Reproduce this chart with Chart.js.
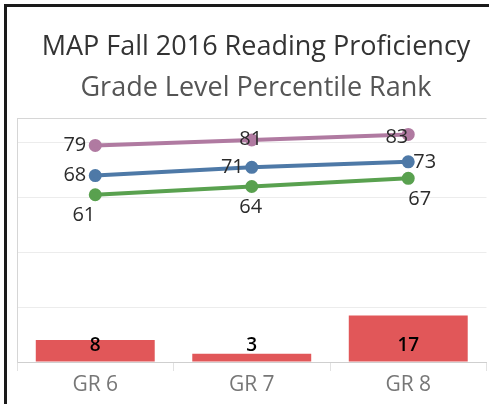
<!DOCTYPE html>
<html>
<head>
<meta charset="utf-8">
<script src="https://cdn.jsdelivr.net/npm/chart.js@4"></script>
<style>
  html, body { margin:0; padding:0; background:#fff; overflow:hidden; width:489px; height:404px; }
  #frame { position:absolute; left:4px; top:4px; width:490px; height:410px; border-left:3px solid #1a1a1a; border-top:3px solid #1a1a1a; box-sizing:border-box; pointer-events:none; z-index:2; }
  #wrap { position:absolute; left:0; top:0; width:495px; height:404px; }
</style>
</head>
<body>
<div id="wrap"><canvas id="c" width="495" height="404"></canvas></div>
<div id="frame"></div>
<script>
// ---- data ----
const categories = ['GR 6', 'GR 7', 'GR 8'];
const seriesTop    = [79, 81, 83];   // purple
const seriesMid    = [68, 71, 73];   // blue
const seriesLow    = [61, 64, 67];   // green
const barValues    = [8, 3, 17];     // red bars
const gridTicks    = [0, 20, 40, 60, 80];

// ---- styles (label placement relative to point) ----
const labelPlacement = {
  top: [{dx:-9, dy:0, align:'right'}, {dx:-1, dy:-1, align:'center'}, {dx:0, dy:3, align:'right'}],
  mid: [{dx:-9, dy:0, align:'right'}, {dx:-8, dy:0, align:'right'}, {dx:5, dy:0, align:'left'}],
  low: [{dx:0, dy:21, align:'right'}, {dx:-1, dy:21, align:'center'}, {dx:0, dy:21, align:'left'}]
};
const FONT = "'Open Sans', sans-serif";

const labelPlugin = {
  id: 'labels',
  afterDatasetsDraw(chart) {
    const ctx = chart.ctx;
    ctx.save();
    ctx.textBaseline = 'middle';
    chart.data.datasets.forEach((ds, di) => {
      const meta = chart.getDatasetMeta(di);
      if (ds.type === 'line') {
        const place = labelPlacement[ds.key];
        ctx.font = "20px " + FONT;
        ctx.fillStyle = '#2b2b2b';
        meta.data.forEach((pt, i) => {
          const p = place[i];
          ctx.textAlign = p.align;
          ctx.fillText(String(ds.data[i]), pt.x + p.dx, pt.y + p.dy);
        });
      } else {
        ctx.font = "600 19px " + FONT;
        ctx.fillStyle = '#000';
        ctx.textAlign = 'center';
        const base = chart.scales.y.getPixelForValue(0);
        meta.data.forEach((bar, i) => {
          ctx.fillText(String(ds.data[i]), bar.x, base - 16);
        });
      }
    });
    ctx.restore();
  }
};

new Chart(document.getElementById('c'), {
  data: {
    labels: categories,
    datasets: [
      { type:'line', key:'top', data: seriesTop, borderColor:'#B07AA1', backgroundColor:'#B07AA1',
        borderWidth:4, pointRadius:4.5, pointHoverRadius:4.5, order:1 },
      { type:'line', key:'mid', data: seriesMid, borderColor:'#4E79A7', backgroundColor:'#4E79A7',
        borderWidth:4, pointRadius:4.5, pointHoverRadius:4.5, order:1 },
      { type:'line', key:'low', data: seriesLow, borderColor:'#59A14F', backgroundColor:'#59A14F',
        borderWidth:4, pointRadius:4.5, pointHoverRadius:4.5, order:1 },
      { type:'bar', data: barValues, backgroundColor:'#E15759', borderWidth:0,
        categoryPercentage:1, barPercentage:0.76, order:2 }
    ]
  },
  options: {
    responsive:false,
    animation:false,
    layout: { padding: { left:17, right:0, top:0, bottom:0 } },
    plugins: {
      legend: { display:false },
      tooltip: { enabled:false },
      title: { display:true, text:'MAP Fall 2016 Reading Proficiency', color:'#333',
        font:{ family:FONT, size:27, weight:'normal', lineHeight:1.2 }, padding:{ top:31, bottom:0 } },
      subtitle: { display:true, text:'Grade Level Percentile Rank', color:'#555',
        font:{ family:FONT, size:27, weight:'normal', lineHeight:1.2 }, padding:{ top:9, bottom:14 } }
    },
    scales: {
      x: {
        offset:true,
        grid: { offset:true, drawOnChartArea:false, drawTicks:true, tickLength:9, color:'#e2e2e2' },
        border: { display:true, color:'#cfcfcf', width:1 },
        ticks: { color:'#777', font:{ family:FONT, size:21 }, padding:1 },
        afterFit(s) { s.height = 42; }
      },
      y: {
        min:0, max:88.7,
        afterBuildTicks(s) { s.ticks = gridTicks.concat([88.7]).map(v => ({ value:v })); },
        ticks: { display:false },
        grid: { drawTicks:false, color: c => (c.tick && c.tick.value > 85) ? '#d6d6d6' : '#ececec', lineWidth:1 },
        border: { display:true, color:'#d6d6d6', width:1 },
        afterFit(s) { s.width = 0; }
      }
    }
  },
  plugins: [labelPlugin]
});
</script>
</body>
</html>
